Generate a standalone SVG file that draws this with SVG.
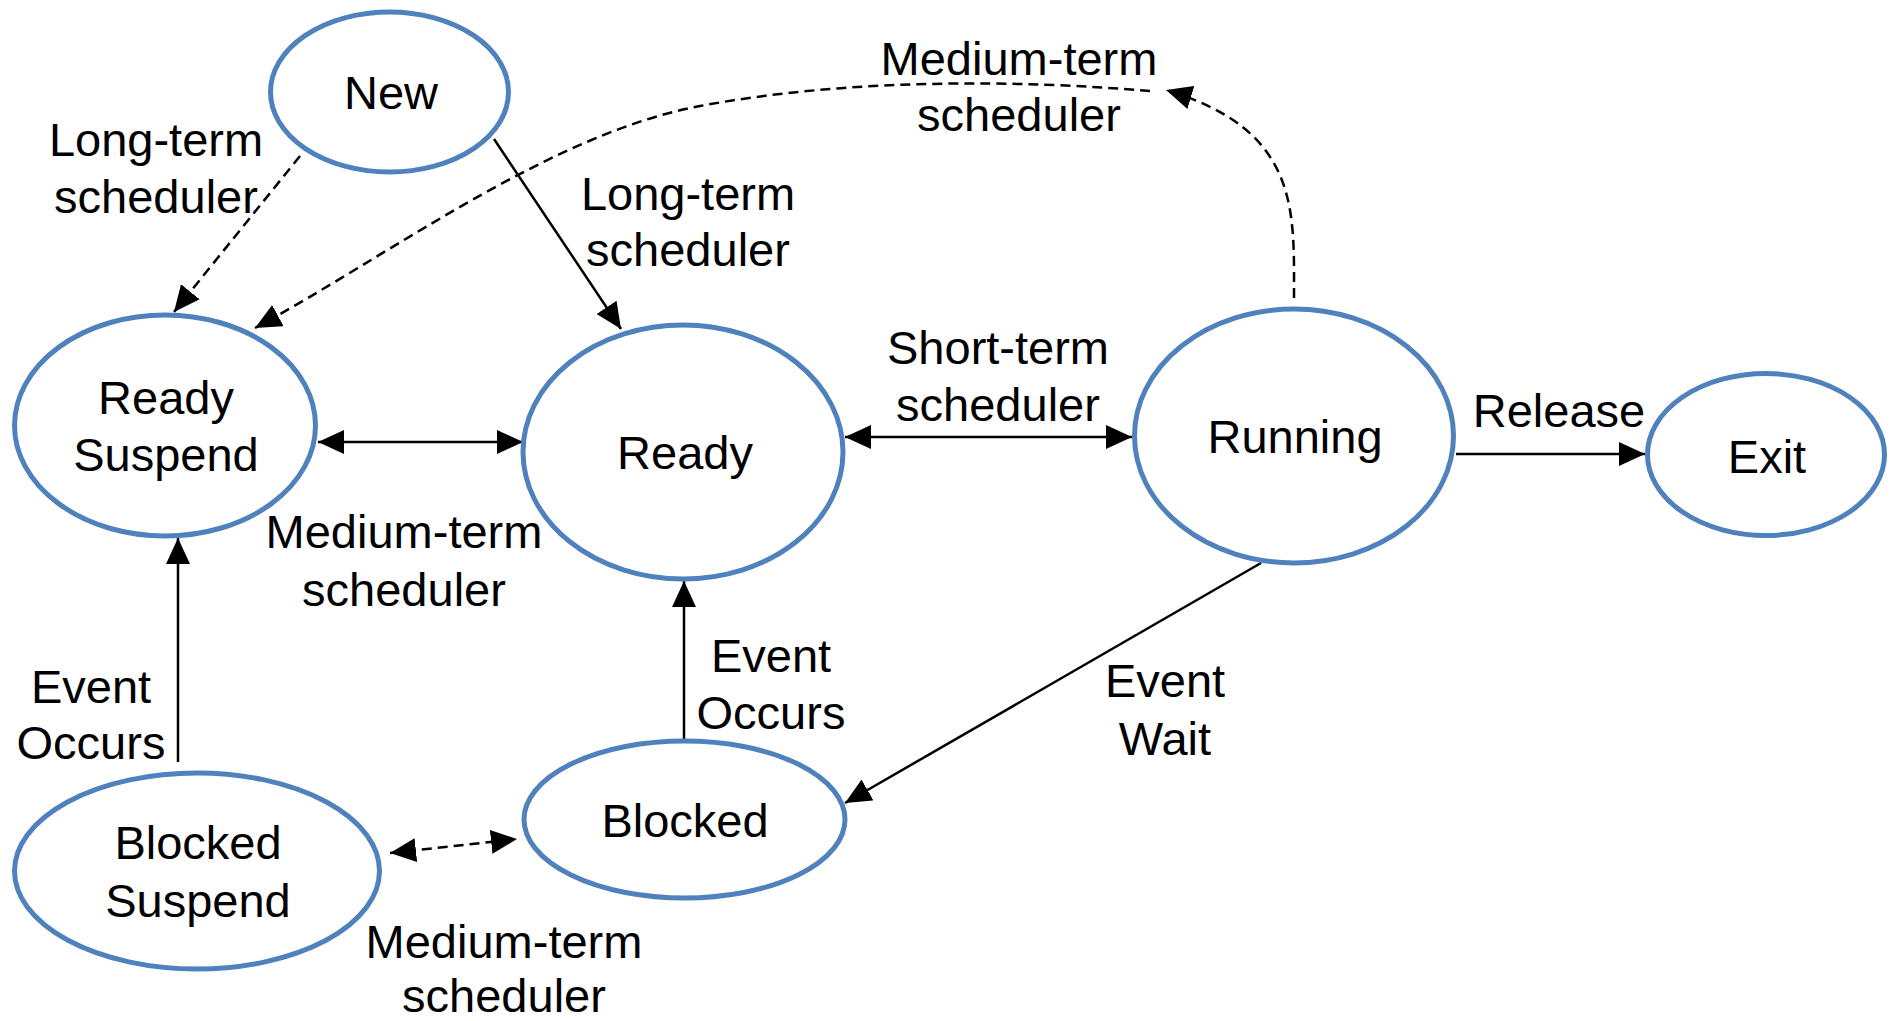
<svg xmlns="http://www.w3.org/2000/svg" width="1891" height="1021" viewBox="0 0 1891 1021">
  <style>
    .state { fill: #ffffff; stroke: #4F81BD; stroke-width: 5; }
    .label { font-family: "Liberation Sans", Arial, sans-serif; font-size: 47px; fill: #000000; text-anchor: middle; }
    .edge { fill: none; stroke: #000000; stroke-width: 2.5; }
    .dashed { stroke-dasharray: 10 6; }
  </style>
  <defs>
    <marker id="arrow" markerUnits="userSpaceOnUse" markerWidth="26" markerHeight="24" refX="26" refY="12" orient="auto-start-reverse">
      <path d="M0,0 L26,12 L0,24 z" fill="#000000"/>
    </marker>
  </defs>

  <rect x="0" y="0" width="1891" height="1021" fill="#ffffff"/>

  <!-- transitions -->
  <g id="connectors">
    <line class="edge dashed" x1="300" y1="156" x2="174" y2="312" marker-end="url(#arrow)"/>
    <line class="edge" x1="494" y1="139" x2="621" y2="329" marker-end="url(#arrow)"/>
    <path class="edge dashed" d="M1294,298 C1294,210 1300,130 1166,90" marker-end="url(#arrow)"/>
    <path class="edge dashed" d="M1150,91 C1020,80 850,78 700,106 S390,255 255,328" marker-end="url(#arrow)"/>
    <line class="edge" x1="318" y1="442" x2="523" y2="442" marker-start="url(#arrow)" marker-end="url(#arrow)"/>
    <line class="edge" x1="845" y1="437" x2="1132" y2="437" marker-start="url(#arrow)" marker-end="url(#arrow)"/>
    <line class="edge" x1="1456" y1="454" x2="1645" y2="454" marker-end="url(#arrow)"/>
    <line class="edge" x1="1261" y1="563" x2="845" y2="803" marker-end="url(#arrow)"/>
    <line class="edge" x1="684" y1="739" x2="684" y2="581" marker-end="url(#arrow)"/>
    <line class="edge" x1="178" y1="762" x2="178" y2="538" marker-end="url(#arrow)"/>
    <line class="edge dashed" x1="390" y1="853" x2="517" y2="839" marker-start="url(#arrow)" marker-end="url(#arrow)"/>
  </g>

  <!-- transition labels -->
  <g id="edge-labels">
    <text class="label" x="156" y="156">Long-term</text>
    <text class="label" x="156" y="213">scheduler</text>
    <text class="label" x="688" y="210">Long-term</text>
    <text class="label" x="688" y="266">scheduler</text>
    <text class="label" x="1019" y="75">Medium-term</text>
    <text class="label" x="1019" y="131">scheduler</text>
    <text class="label" x="998" y="364">Short-term</text>
    <text class="label" x="998" y="421">scheduler</text>
    <text class="label" x="1559" y="427">Release</text>
    <text class="label" x="404" y="548">Medium-term</text>
    <text class="label" x="404" y="606">scheduler</text>
    <text class="label" x="91" y="703">Event</text>
    <text class="label" x="91" y="759">Occurs</text>
    <text class="label" x="771" y="672">Event</text>
    <text class="label" x="771" y="729">Occurs</text>
    <text class="label" x="1165" y="697">Event</text>
    <text class="label" x="1165" y="755">Wait</text>
    <text class="label" x="504" y="958">Medium-term</text>
    <text class="label" x="504" y="1012">scheduler</text>
  </g>

  <!-- states -->
  <g id="new">
    <ellipse class="state" cx="389.5" cy="92" rx="119" ry="80"/>
    <text class="label" x="391" y="109">New</text>
  </g>
  <g id="ready-suspend">
    <ellipse class="state" cx="165" cy="425.5" rx="150.5" ry="110.5"/>
    <text class="label" x="166" y="414">Ready</text>
    <text class="label" x="166" y="471">Suspend</text>
  </g>
  <g id="ready">
    <ellipse class="state" cx="683" cy="452" rx="160" ry="127"/>
    <text class="label" x="685" y="469">Ready</text>
  </g>
  <g id="running">
    <ellipse class="state" cx="1294" cy="436" rx="159.5" ry="127"/>
    <text class="label" x="1295" y="453">Running</text>
  </g>
  <g id="exit">
    <ellipse class="state" cx="1766" cy="454.5" rx="118.5" ry="81"/>
    <text class="label" x="1767" y="473">Exit</text>
  </g>
  <g id="blocked">
    <ellipse class="state" cx="684.5" cy="819.5" rx="160.5" ry="78.5"/>
    <text class="label" x="685" y="837">Blocked</text>
  </g>
  <g id="blocked-suspend">
    <ellipse class="state" cx="197" cy="871" rx="182.5" ry="98"/>
    <text class="label" x="198" y="859">Blocked</text>
    <text class="label" x="198" y="917">Suspend</text>
  </g>
</svg>
